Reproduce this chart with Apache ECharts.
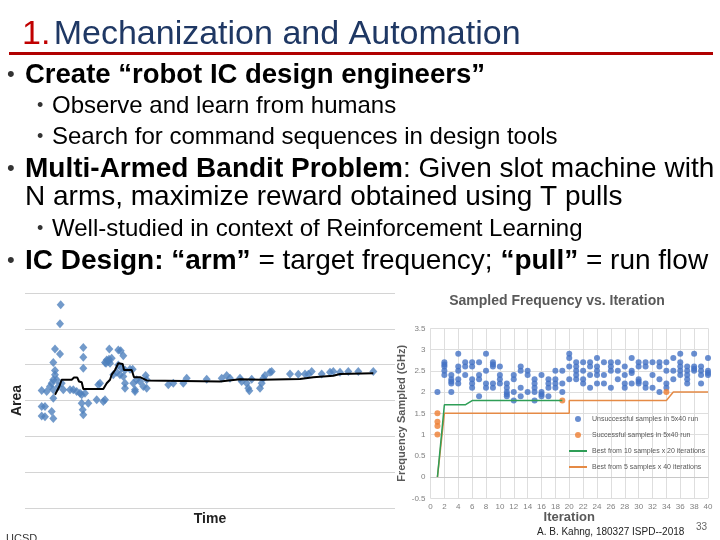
<!DOCTYPE html>
<html><head><meta charset="utf-8">
<script src="https://cdn.jsdelivr.net/npm/echarts@6/dist/echarts.min.js"></script>
<style>html,body{margin:0;padding:0;background:#fff}#c{width:720px;height:540px}</style>
</head><body><div id="c"></div>
<script>
// ---------- Left chart: Area vs Time ----------
const areaSamples = [
 [35.7,5.67],[35,5.14],
 [30,4.44],[35,4.30],[58.3,4.48],[58.3,4.21],[58.3,3.90],[84.3,4.44],[93.3,4.41],[95.7,4.39],[98.3,4.25],
 [28.3,4.06],[30,3.84],
 [81.7,4.13],[83.3,4.09],[85,4.04],[81,4.04],[86.7,4.18],[80,4.06],[84,4.15],
 [93.3,3.99],[96.7,3.90],[100,3.85],[105,3.87],[107.7,3.87],[95,3.72],[98.3,3.67],
 [16.7,3.28],[21.7,3.25],[25,3.39],[26.7,3.48],[28.3,3.58],[30,3.72],[31.7,3.58],[28.3,3.30],[33.3,3.39],[36.7,3.48],[38.3,3.30],
 [16.7,2.83],[20,2.83],[16.7,2.57],[20,2.55],[26.7,2.69],[28.3,2.50],[28.3,3.06],
 [45,3.30],[48.3,3.30],[51.7,3.25],[55,3.20],[56.7,3.16],[60,3.20],[63.3,2.92],[56.7,2.92],[57.7,2.74],[58.3,2.60],
 [73.3,3.44],[75,3.48],[71.7,3.02],[78.3,2.97],[80,3.02],
 [88.3,3.72],[91.7,3.79],[100,3.48],[100,3.34],[110,3.30],[108.3,3.48],[111.7,3.58],[115,3.53],[118.3,3.39],[121.7,3.58],[121.7,3.34],[120.7,3.70],[110,3.25],
 [143.3,3.44],[148.3,3.48],[158.3,3.48],[161.7,3.62],[181.7,3.59],[196.7,3.62],[201.7,3.70],[205,3.62],[215,3.62],[216.7,3.53],[221.7,3.48],[223.3,3.34],[224.3,3.27],[226.7,3.59],[235,3.34],[236.7,3.48],[238.3,3.62],[240,3.70],[245,3.79],[246.7,3.81],
 [265,3.74],[273.3,3.73],[280,3.74],[283.3,3.73],[286.7,3.81],[296.7,3.74],[305,3.79],[308.3,3.81],[315,3.79],[323.3,3.81],[333.3,3.81],[348.3,3.81]
];
const areaTrend = [
 [30,3.16],[34.3,3.39],[36.7,3.58],[46.7,3.58],[49,3.64],[52.3,3.64],[54,3.53],[56.7,3.51],[58.3,3.32],[78.3,3.32],
 [81.7,3.48],[85,3.58],[86.7,3.72],[90,3.85],[93.3,4.04],[97.7,4.02],[99,3.85],[106.7,3.85],[109,3.65],[115,3.65],
 [121.7,3.56],[195,3.53],[215,3.59],[236.7,3.58],[238.3,3.53],[275,3.60],[288.3,3.65],[308.3,3.69],[315,3.74],[348.3,3.76]
];

// ---------- Right chart: Sampled Frequency vs Iteration ----------
const iterations = Array.from({length:40},(_,i)=>i+1);
const unsuccessfulByIter = [
 [2.0],[2.7,2.65,2.6,2.5,2.4],[2.4,2.3,2.25,2.2,2.0],[2.9,2.6,2.5,2.3,2.2],[2.7,2.6,2.4],
 [2.7,2.6,2.3,2.2,2.1],[2.7,2.4,2.3,1.9],[2.9,2.5,2.2,2.1],[2.7,2.65,2.6,2.2,2.1],[2.6,2.4,2.3,2.2],
 [2.2,2.1,2.0,1.95,1.9],[2.4,2.3,2.0,1.8],[2.6,2.5,2.1,1.9],[2.5,2.4,2.0],[2.3,2.2,2.1,2.0,1.8],
 [2.4,2.0,1.95,1.9],[2.3,2.2,2.1,1.9],[2.5,2.3,2.2,2.1],[2.5,2.2,2.0],[2.9,2.8,2.6,2.3],
 [2.7,2.6,2.5,2.4,2.3],[2.7,2.5,2.3,2.2],[2.7,2.6,2.4,2.1],[2.8,2.6,2.5,2.4,2.2],[2.7,2.4,2.2],
 [2.7,2.6,2.5,2.1],[2.7,2.5,2.3],[2.6,2.4,2.2,2.1],[2.8,2.5,2.45,2.2],[2.7,2.6,2.3,2.25,2.2],
 [2.7,2.6,2.2,2.1],[2.7,2.4,2.1],[2.7,2.6,2.3,2.0],[2.7,2.5,2.2,2.1],[2.8,2.5,2.3],
 [2.9,2.7,2.6,2.5,2.4],[2.6,2.5,2.4,2.3,2.2],[2.9,2.6,2.55,2.5],[2.6,2.5,2.4,2.2],[2.8,2.5,2.45,2.4]
];
const successfulSamples = [[1,1.5],[1,1.3],[1,1.2],[1,1.0],[19,1.8],[34,2.0]];
const best10x20 = [[1,0],[2,1.7],[3,1.7],[4,1.7],[5,1.7],[6,1.8],[7,1.8],[8,1.8],[9,1.8],[10,1.8],
 [11,1.8],[12,1.8],[13,1.8],[14,1.8],[15,1.8],[16,1.8],[17,1.8],[18,1.8],[19,1.8]];
const best5x40 = [[1,0],[2,1.5],[3,1.5],[4,1.5],[5,1.5],[6,1.5],[7,1.5],[8,1.5],[9,1.5],[10,1.5],
 [11,1.5],[12,1.5],[13,1.5],[14,1.5],[15,1.5],[16,1.5],[17,1.5],[18,1.5],[19,1.5],[20,1.5],[20,1.8],
 [21,1.8],[22,1.8],[23,1.8],[24,1.8],[25,1.8],[26,1.8],[27,1.8],[28,1.8],[29,1.8],[30,1.8],
 [31,1.8],[32,1.8],[33,1.8],[34,1.8],[35,2.0],[36,2.0],[37,2.0],[38,2.0],[39,2.0],[40,2.0]];
const seriesNames = ['Unsuccessful samples in 5x40 run','Successful samples in 5x40 run',
 'Best from 10 samples x 20 iterations','Best from 5 samples x 40 iterations'];

const unsuccessfulPts = [];
iterations.forEach((it,i)=>unsuccessfulByIter[i].forEach(v=>unsuccessfulPts.push([it,v])));

const FF = '"Liberation Sans", Arial, sans-serif';
const chart = echarts.init(document.getElementById('c'), null, {renderer:'canvas'});

function txt(x,y,text,font,fill,extra){
  return Object.assign({type:'text',x:x,y:y,style:{text:text,font:font,fill:fill,align:'left',verticalAlign:'middle'}},extra||{});
}
const graphics = [
  {type:'text',x:22,y:35,style:{text:'{r|1.} {b|Mechanization and Automation}',verticalAlign:'middle',
    rich:{r:{fontSize:34,fontFamily:FF,fill:'#c00000'},b:{fontSize:34,fontFamily:FF,fill:'#1f3864'}}}},
  {type:'rect',shape:{x:9,y:52,width:704,height:3},style:{fill:'#b00000'}},
  txt(7,75,'•','22px '+FF,'#333'),
  txt(25,75,'Create “robot IC design engineers”','bold 27.5px '+FF,'#000'),
  txt(37,106,'•','18px '+FF,'#333'),
  txt(52,106,'Observe and learn from humans','24px '+FF,'#000'),
  txt(37,137,'•','18px '+FF,'#333'),
  txt(52,137,'Search for command sequences in design tools','24px '+FF,'#000'),
  txt(7,169,'•','22px '+FF,'#333'),
  {type:'text',x:25,y:169,style:{text:'{b|Multi-Armed Bandit Problem}{n|: Given slot machine with}',verticalAlign:'middle',
    rich:{b:{fontSize:28,fontWeight:'bold',fontFamily:FF,fill:'#000'},n:{fontSize:28,fontFamily:FF,fill:'#000'}}}},
  txt(25,197,'N arms, maximize reward obtained using T pulls','28px '+FF,'#000'),
  txt(37,229,'•','18px '+FF,'#333'),
  txt(52,229,'Well-studied in context of Reinforcement Learning','24px '+FF,'#000'),
  txt(7,261,'•','22px '+FF,'#333'),
  {type:'text',x:25,y:261,style:{text:'{b|IC Design: “arm”}{n| = target frequency; }{b|“pull”}{n| = run flow}',verticalAlign:'middle',
    rich:{b:{fontSize:28,fontWeight:'bold',fontFamily:FF,fill:'#000'},n:{fontSize:28,fontFamily:FF,fill:'#000'}}}},
  {type:'text',x:557,y:301,style:{text:'Sampled Frequency vs. Iteration',font:'bold 14px '+FF,fill:'#595959',align:'center',verticalAlign:'middle'}},
  txt(537,532,'A. B. Kahng, 180327 ISPD--2018','10px '+FF,'#222'),
  txt(696,527,'33','10px '+FF,'#666'),
  txt(6,539,'UCSD','11px '+FF,'#333')
];

const hiddenDot = {opacity:0, color:'rgba(0,0,0,0)', borderWidth:0};
const option = {
  animation:false,
  backgroundColor:'#fff',
  grid:[
    {left:25, top:293, width:370, height:215},
    {left:430.5, top:328.3, width:277.5, height:170}
  ],
  xAxis:[
    {gridIndex:0,type:'value',min:0,max:370,show:true,axisLine:{show:false},axisTick:{show:false},axisLabel:{show:false},
     splitLine:{show:false},name:'Time',nameLocation:'middle',nameGap:4,
     nameTextStyle:{fontSize:14,fontWeight:'bold',fontFamily:FF,color:'#222',verticalAlign:'top'}},
    {gridIndex:1,type:'value',min:0,max:40,interval:2,axisLine:{onZero:true,lineStyle:{color:'#c8c8c8'}},axisTick:{show:false},
     axisLabel:{fontSize:8,color:'#808080',margin:4,fontFamily:FF},
     splitLine:{show:true,lineStyle:{color:'#dedede',width:1}},
     name:'Iteration',nameLocation:'middle',nameGap:13,
     nameTextStyle:{fontSize:13,fontWeight:'bold',fontFamily:FF,color:'#595959',verticalAlign:'top'}}
  ],
  yAxis:[
    {gridIndex:0,type:'value',min:0,max:6,interval:1,axisLine:{show:false},axisTick:{show:false},axisLabel:{show:false},
     splitLine:{show:true,lineStyle:{color:'#d4d4d4',width:1}},
     name:'Area',nameLocation:'middle',nameGap:1,nameRotate:90,
     nameTextStyle:{fontSize:14,fontWeight:'bold',fontFamily:FF,color:'#222'}},
    {gridIndex:1,type:'value',min:-0.5,max:3.5,interval:0.5,axisLine:{show:false},axisTick:{show:false},
     axisLabel:{fontSize:8,color:'#808080',margin:5,fontFamily:FF},
     splitLine:{show:true,lineStyle:{color:'#dedede',width:1}},
     name:'Frequency Sampled (GHz)',nameLocation:'middle',nameGap:21,nameRotate:90,
     nameTextStyle:{fontSize:11,fontWeight:'bold',fontFamily:FF,color:'#595959'}}
  ],
  legend:{
    show:true, orient:'vertical', left:568, top:411, padding:0, itemGap:0, itemWidth:18, itemHeight:6,
    data:[
      {name:seriesNames[0]},
      {name:seriesNames[1]},
      {name:seriesNames[2], itemStyle:hiddenDot},
      {name:seriesNames[3], itemStyle:hiddenDot}
    ],
    textStyle:{fontSize:7,color:'#595959',lineHeight:16,fontFamily:FF}, selectedMode:false
  },
  series:[
    {name:'areaSamples',type:'scatter',xAxisIndex:0,yAxisIndex:0,symbol:'diamond',symbolSize:[8,9],
     itemStyle:{color:'#4f81bd'},data:areaSamples,z:2},
    {name:'areaTrend',type:'line',xAxisIndex:0,yAxisIndex:0,symbol:'none',lineStyle:{color:'#000',width:2},data:areaTrend,z:3},
    {name:seriesNames[0],type:'scatter',xAxisIndex:1,yAxisIndex:1,symbol:'circle',symbolSize:6,
     itemStyle:{color:'#4472c4'},data:unsuccessfulPts,z:2},
    {name:seriesNames[1],type:'scatter',xAxisIndex:1,yAxisIndex:1,symbol:'circle',symbolSize:6,
     itemStyle:{color:'#ed7d31'},data:successfulSamples,z:2},
    {name:seriesNames[2],type:'line',xAxisIndex:1,yAxisIndex:1,symbol:'none',lineStyle:{color:'#2f9e57',width:1.5},
     itemStyle:{color:'#2f9e57'},data:best10x20,z:4},
    {name:seriesNames[3],type:'line',xAxisIndex:1,yAxisIndex:1,symbol:'none',lineStyle:{color:'#e58a45',width:1.5},
     itemStyle:{color:'#e58a45'},data:best5x40,z:3}
  ],
  graphic:graphics
};
chart.setOption(option);
</script></body></html>
